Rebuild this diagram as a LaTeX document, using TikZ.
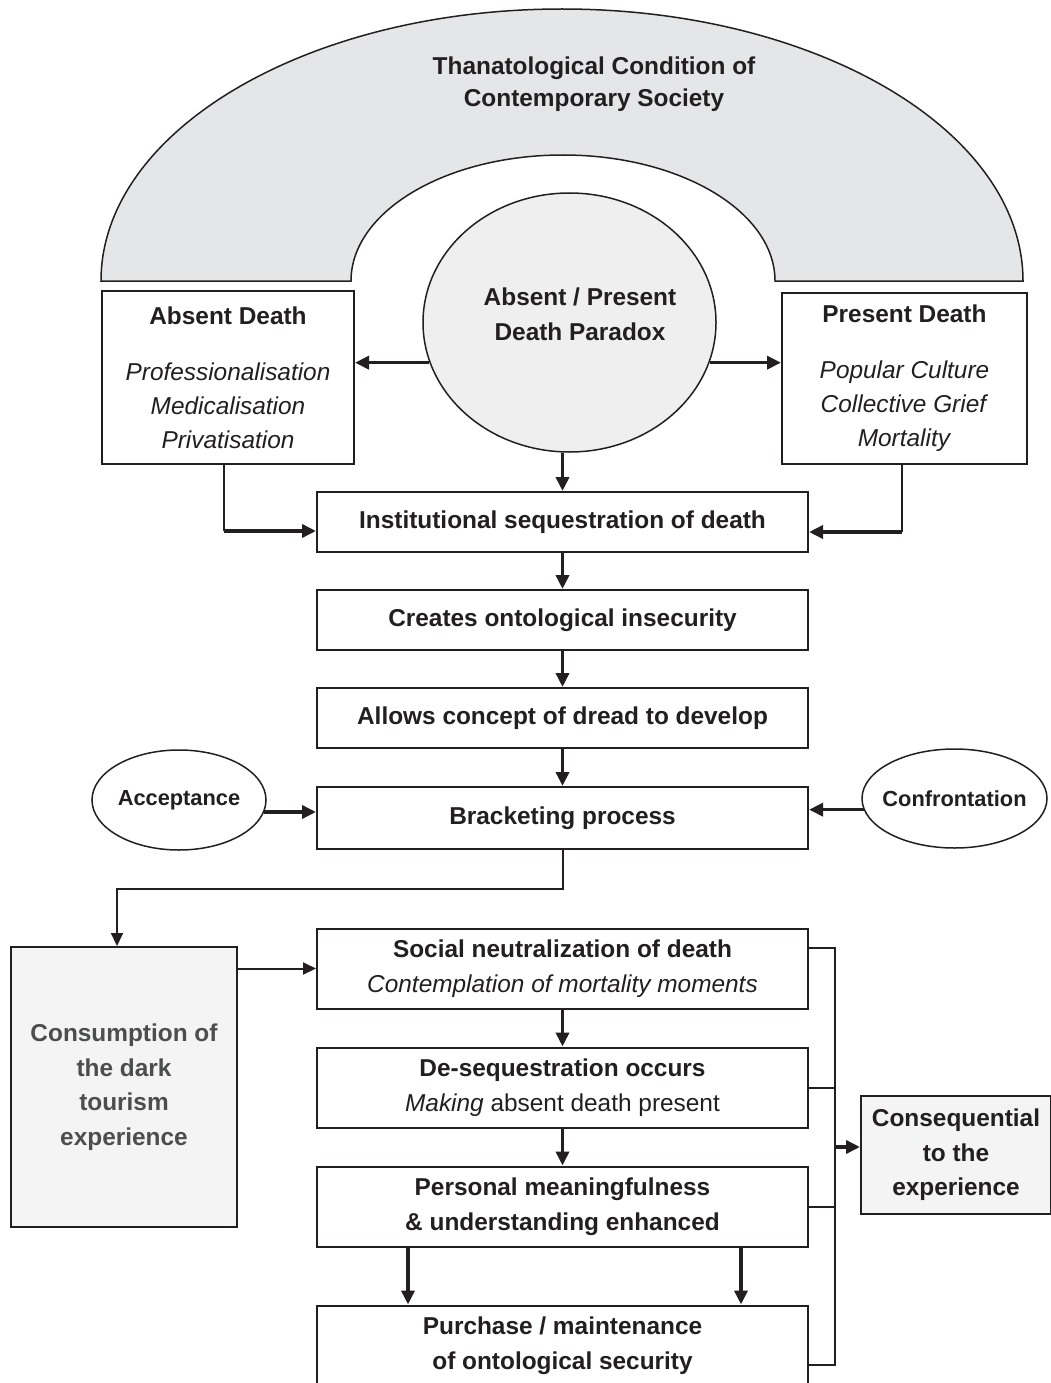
\documentclass[tikz,border=0pt]{standalone}
\usepackage{fontspec}
\setmainfont{Liberation Sans}
\usetikzlibrary{shapes.geometric,arrows.meta,positioning}
\definecolor{ink}{HTML}{231F20}
\definecolor{band}{HTML}{E5E6E8}
\definecolor{pale}{HTML}{F3F4F3}
\definecolor{para}{HTML}{EFEFEF}
\definecolor{greytext}{HTML}{4B4D4F}

\begin{document}
\begin{tikzpicture}[x=1pt, y=-1pt,
    box/.style={rectangle, draw=ink, line width=2pt, fill=white, text=ink, minimum width=491pt, minimum height=60pt, inner sep=0pt, align=center, font=\fontsize{24.4}{34.5}\selectfont\bfseries},
    side/.style={box, font=\fontsize{24.4}{34}\selectfont},
    oval/.style={ellipse, draw=ink, line width=1.5pt, fill=white, text=ink, inner sep=0pt, font=\fontsize{21.8}{26}\selectfont\bfseries},
    txt/.style={align=center, inner sep=0pt, text=ink, font=\fontsize{24.4}{34.5}\selectfont\bfseries},
    arrow/.style={draw=ink, line width=3.5pt, -{Triangle[length=14pt,width=13pt]}},
    link/.style={draw=ink, line width=2pt},
    linkarrow/.style={link, -{Triangle[length=13pt,width=12pt]}}
]
\useasboundingbox (0,0) rectangle (1051,1383);
\clip (0,0) rectangle (1051,1383);

% outer band
\draw[draw=ink, line width=1.5pt, fill=band] (101,281) arc[start angle=180, end angle=360, x radius=461, y radius=272]
    -- (775,281) arc[start angle=360, end angle=180, x radius=212, y radius=126] -- cycle;
\node[txt, font=\fontsize{24.4}{32}\selectfont\bfseries] (title) at (594,84) {Thanatological Condition of\\Contemporary Society};

\node[oval, fill=para, minimum width=293pt, minimum height=259pt] (paradox) at (569.5,322.5) {};
\node[txt] (paratxt) at (580,314.5) {Absent / Present\\Death Paradox};

\node[side, minimum width=252pt, minimum height=173pt] (absent) at (228,377.5)
    {\textbf{Absent Death}\\[22pt]\textit{Professionalisation}\\\textit{Medicalisation}\\\textit{Privatisation}};
\node[side, minimum width=245pt, minimum height=171pt] (present) at (904.5,378.5)
    {\textbf{Present Death}\\[22pt]\textit{Popular Culture}\\\textit{Collective Grief}\\\textit{Mortality}};

\node[box] (inst) at (562.5,522) {Institutional sequestration of death};
\node[box] (creates) at (562.5,620) {Creates ontological insecurity};
\node[box] (dread) at (562.5,718) {Allows concept of dread to develop};
\node[box, minimum height=62pt] (bracket) at (562.5,818) {Bracketing process};
\node[box, minimum height=80pt] (social) at (562.5,968.5) {Social neutralization of death\\{\mdseries\itshape Contemplation of mortality moments}};
\node[box, minimum height=80pt] (deseq) at (562.5,1087.5) {De-sequestration occurs\\{\mdseries\textit{Making} absent death present}};
\node[box, minimum height=80pt] (personal) at (562.5,1206.5) {Personal meaningfulness\\\& understanding enhanced};
\node[box, minimum height=80pt] (purchase) at (562.5,1345.5) {Purchase / maintenance\\of ontological security};

\node[oval, minimum width=174pt, minimum height=100pt] (accept) at (179,800) {\makebox[0pt]{Acceptance}};
\node[oval, minimum width=185pt, minimum height=99pt] (confront) at (954.5,798.5) {\makebox[0pt]{Confrontation}};

\node[box, fill=pale, text=greytext, minimum width=226pt, minimum height=280pt] (consume) at (124,1087) {Consumption of\\the dark\\tourism\\experience};
\node[box, fill=pale, minimum width=190pt, minimum height=118pt] (conseq) at (956,1155) {Consequential\\to the\\experience};

% top connectors
\draw[arrow] (paradox.196) -- (paradox.196 -| absent.east);
\draw[arrow] (paradox.344) -- (paradox.344 -| present.west);
\draw[arrow] (paradox.south -| inst.north) -- (inst.north);

\coordinate (ajoin) at (224,531);
\draw[link] (absent.south -| ajoin) -- (ajoin);
\draw[arrow] (ajoin) -- (ajoin -| inst.west);
\coordinate (pjoin) at (902,532);
\draw[link] (present.south -| pjoin) -- (pjoin);
\draw[arrow] (pjoin) -- (pjoin -| inst.east);

% main column
\draw[arrow] (inst) -- (creates);
\draw[arrow] (creates) -- (dread);
\draw[arrow] (dread) -- (bracket);
\draw[arrow] (accept.352) -- (accept.352 -| bracket.west);
\draw[arrow] (confront.187) -- (confront.187 -| bracket.east);

\coordinate (cjoin) at (117,889);
\draw[linkarrow] (bracket.south) |- (cjoin) -- (cjoin |- consume.north);
\draw[linkarrow] (social.west -| consume.east) -- (social.west);

\draw[arrow] (social) -- (deseq);
\draw[arrow] (deseq) -- (personal);
\coordinate (pl) at (408,0);
\coordinate (pr) at (741,0);
\draw[arrow] (personal.south -| pl) -- (purchase.north -| pl);
\draw[arrow] (personal.south -| pr) -- (purchase.north -| pr);

% right bracket
\coordinate (rtop) at (835,948);
\coordinate (rbot) at (835,1365);
\coordinate (rmid) at (835,1147);
\draw[link] (social.east |- rtop) -- (rtop) -- (rbot) -- (rbot -| purchase.east);
\draw[link] (deseq.east) -- (deseq.east -| rtop);
\draw[link] (personal.east) -- (personal.east -| rtop);
\draw[arrow] (rmid) -- (rmid -| conseq.west);
\end{tikzpicture}
\end{document}
